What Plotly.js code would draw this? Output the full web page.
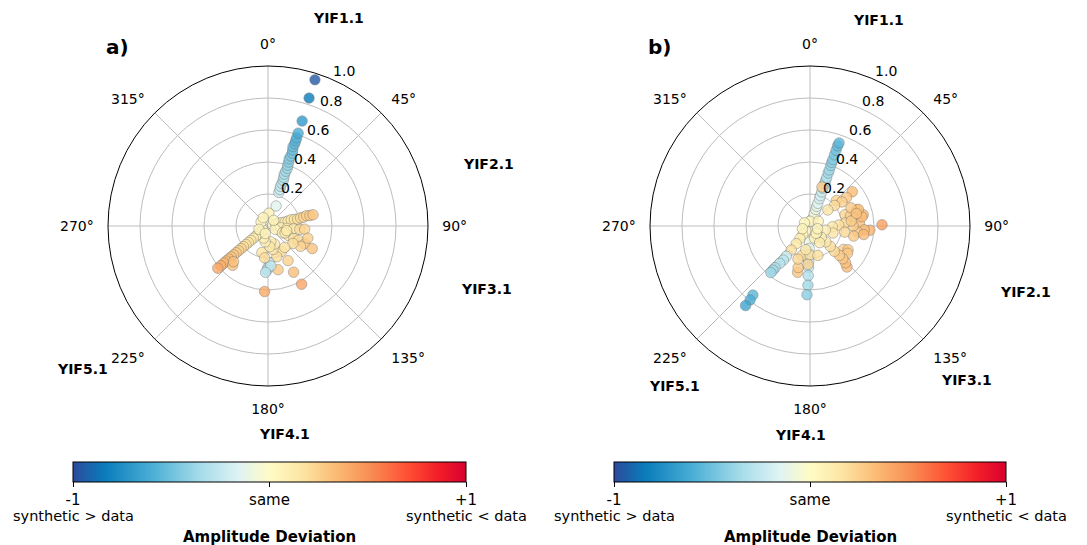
<!DOCTYPE html>
<html>
<head>
<meta charset="utf-8">
<script src="https://cdn.plot.ly/plotly-3.0.1.min.js"></script>
<style>
  html, body { margin: 0; padding: 0; background: #fff; }
  #chart { width: 1087px; height: 545px; }
</style>
</head>
<body>
<div id="chart"></div>
<script>
// Panel a): event azimuths (deg) and signed amplitude deviation
const azimA = [
  18, 18, 17.5, 18, 18.5, 18, 17.5, 18, 18.5, 18, 18, 17.5, 18, 18.5, 18, 17.5, 18, 18, 18, 18, 18, 17.8, 17.8,
  22, 4,
  76, 76, 75, 76, 77, 76, 75, 76, 77, 76, 76, 75, 76, 76,
  98, 97, 96, 96, 95,
  115, 115, 115, 116, 115, 116, 117, 107, 122, 125, 112, 104,
  152, 150, 151, 150, 142, 164, 168, 167, 193, 160, 170, 175,
  178, 180, 181, 176, 183, 183, 186, 190, 200,
  230, 230, 230, 230, 230, 230, 230, 230, 230, 230, 230, 230, 230, 230, 230, 230, 230, 230, 230, 222, 224,
  300, 330, 250, 45, 200
];
const devA = [
  -0.22, -0.24, -0.26, -0.28, -0.30, -0.32, -0.34, -0.36, -0.38, -0.40, -0.42, -0.44, -0.46, -0.48, -0.50, -0.52, -0.54, -0.56, -0.58, -0.61, -0.69, -0.84, -0.96,
  -0.135, 0.08,
  0.03, 0.05, 0.07, 0.09, 0.11, 0.13, 0.15, 0.17, 0.19, 0.21, 0.23, 0.25, 0.27, 0.29,
  0.08, 0.12, 0.16, 0.20, 0.23,
  0.05, 0.10, 0.14, 0.18, 0.21, 0.255, 0.31, 0.26, 0.24, 0.19, 0.115, 0.12,
  0.18, 0.25, 0.33, 0.42, 0.17, 0.20, 0.15, 0.28, 0.17, 0.12, 0.10, 0.13,
  -0.23, -0.26, -0.275, -0.25, -0.29, 0.41, 0.20, 0.10, 0.08,
  0.04, 0.06, 0.08, 0.10, 0.12, 0.14, 0.16, 0.18, 0.20, 0.22, 0.24, 0.26, 0.28, 0.30, 0.32, 0.34, 0.36, 0.385, 0.41, 0.33, 0.31,
  0.05, 0.06, 0.06, 0.05, 0.05
];

// Panel b): event azimuths (deg) and signed amplitude deviation
const azimB = [
  19, 19, 19, 19, 19, 19, 19, 19, 19, 19, 19, 19, 19, 19, 19, 19, 19, 19, 19, 19, 19.3, 17,
  51, 52, 46, 53, 50, 48,
  71, 78, 72, 76, 80, 87, 94, 89, 94, 97, 90, 85, 88, 92, 80, 71, 99, 103, 107, 105, 100, 83, 66, 75,
  125, 122, 126, 138, 136, 135, 135, 136, 135, 135, 135, 135,
  182, 182, 182, 182, 182, 182, 182, 182.5,
  195, 196, 195, 180, 183, 190, 200,
  220, 220, 219, 218, 218, 218, 218, 219, 220, 220, 220, 219.6, 219, 219,
  0, 300, 250, 160, 165, 150, 140, 60, 110
];
const devB = [
  -0.05, -0.08, -0.11, -0.13, -0.15, -0.18, -0.20, -0.225, -0.25, -0.28, -0.30, -0.32, -0.35, -0.37, -0.40, -0.42, -0.44, -0.47, -0.50, -0.53, -0.55, 0.255,
  0.34, 0.29, 0.23, 0.25, 0.20, 0.15,
  0.31, 0.34, 0.23, 0.26, 0.29, 0.31, 0.375, 0.45, 0.34, 0.30, 0.27, 0.22, 0.18, 0.14, 0.33, 0.32, 0.34, 0.28, 0.15, 0.10, 0.22, 0.26, 0.28, 0.30,
  0.255, 0.28, 0.29, 0.345, 0.32, 0.29, 0.26, 0.22, 0.18, 0.14, 0.10, 0.06,
  -0.10, -0.14, -0.18, -0.22, -0.26, -0.31, -0.37, -0.43,
  0.30, 0.27, 0.19, 0.18, 0.24, 0.15, 0.22,
  0.04, 0.07, 0.10, 0.14, 0.19, -0.24, -0.27, -0.30, -0.34, -0.36, -0.38, -0.56, -0.595, -0.64,
  0.03, 0.04, 0.05, 0.08, 0.19, 0.12, 0.06, 0.06, 0.05
];

// Station labels and their azimuth positions on each panel
const stations = ['YIF1.1', 'YIF2.1', 'YIF3.1', 'YIF4.1', 'YIF5.1'];
const stationPosA = [[338, 18], [488, 164], [486, 289], [284, 434], [82, 369]];
const stationPosB = [[878, 20], [1025, 292], [966, 380], [800, 435], [674, 386]];

const angleTicks = [0, 45, 90, 135, 180, 225, 270, 315];
const radialTicks = [0.2, 0.4, 0.6, 0.8, 1.0];
const radialLabelAzimuth = 24;
const cbarTicks = [-1, 0, 1];
const cbarLabels = ['-1', 'same', '+1'];
const cbarNotes = ['synthetic &gt; data', 'synthetic &lt; data'];
const cbarTitle = 'Amplitude Deviation';

const W = 1087, H = 545;
const FONT = 'DejaVu Sans, Liberation Sans, sans-serif';

const devScale = [
  [0.00, '#2b4a9c'], [0.08, '#0a7cba'], [0.20, '#4aaed6'], [0.32, '#a3dbe9'],
  [0.42, '#def3f4'], [0.50, '#fffbc6'], [0.58, '#fde6a4'], [0.67, '#fbbb74'],
  [0.76, '#f88c52'], [0.85, '#fe5034'], [0.93, '#f21d28'], [1.00, '#d8002f']
];

// Colour bars: [left, right] pixel extent of each bar
const cbarExtent = [[73, 466], [614, 1006]];

function makeTrace(az, dev, subplot, ext) {
  return {
    type: 'scatterpolar',
    mode: 'markers',
    subplot: subplot,
    theta: az,
    r: dev.map(v => Math.abs(v)),
    hoverinfo: 'skip',
    marker: {
      size: 10.5,
      color: dev,
      colorscale: devScale,
      cmin: -1, cmax: 1,
      opacity: 0.8,
      line: { color: 'rgba(105,105,105,0.85)', width: 0.6 },
      showscale: true,
      colorbar: {
        orientation: 'h',
        x: (ext[0] + ext[1]) / 2 / W, xanchor: 'center',
        y: 1 - 462 / H, yanchor: 'top',
        len: (ext[1] - ext[0]) / W, lenmode: 'fraction',
        thickness: 20, thicknessmode: 'pixels',
        xpad: 0, ypad: 0,
        outlinewidth: 1, outlinecolor: '#000',
        ticks: 'outside', ticklen: 5, tickwidth: 1, tickcolor: '#000',
        tickvals: cbarTicks, ticktext: cbarLabels,
        tickfont: { family: FONT, size: 15, color: '#000' }
      }
    }
  };
}

// Radial tick labels, set beside the spoke just past 22.5°
function radialLabels(subplot) {
  return {
    type: 'scatterpolar',
    mode: 'text',
    subplot: subplot,
    r: radialTicks,
    theta: radialTicks.map(() => radialLabelAzimuth),
    text: radialTicks.map(v => v.toFixed(1)),
    textposition: 'top right',
    textfont: { family: FONT, size: 14, color: '#000' },
    cliponaxis: false,
    hoverinfo: 'skip',
    showlegend: false
  };
}

function polarLayout(x0) {
  return {
    domain: { x: [x0 / W, (x0 + 320) / W], y: [1 - 386 / H, 1 - 66 / H] },
    bgcolor: '#fff',
    angularaxis: {
      rotation: 90, direction: 'clockwise',
      tickvals: angleTicks, ticktext: angleTicks.map(a => a + '°'),
      showline: true, linecolor: '#000', linewidth: 1,
      showgrid: true, gridcolor: '#bdbdbd', gridwidth: 1,
      ticks: 'outside', ticklen: 11, tickcolor: 'rgba(0,0,0,0)',
      tickfont: { family: FONT, size: 14, color: '#000' }
    },
    radialaxis: {
      range: [0, 1], angle: 67.5,
      tickvals: radialTicks, showticklabels: false,
      showline: false, ticks: '',
      showgrid: true, gridcolor: '#bdbdbd', gridwidth: 1
    }
  };
}

const annotations = [];
function addLabel(text, px, py, size) {
  annotations.push({
    text: text, xref: 'paper', yref: 'paper',
    x: px / W, y: 1 - py / H, xanchor: 'center', yanchor: 'middle',
    showarrow: false, font: { family: FONT, size: size, color: '#000' }
  });
}
stations.forEach((s, i) => {
  addLabel('<b>' + s + '</b>', stationPosA[i][0], stationPosA[i][1], 14);
  addLabel('<b>' + s + '</b>', stationPosB[i][0], stationPosB[i][1], 14);
});
addLabel('<b>a)</b>', 117, 47, 20);
addLabel('<b>b)</b>', 659, 47, 20);
cbarExtent.forEach(ext => {
  addLabel(cbarNotes[0], ext[0], 516, 14.5);
  addLabel(cbarNotes[1], ext[1], 516, 14.5);
  addLabel('<b>' + cbarTitle + '</b>', (ext[0] + ext[1]) / 2, 537, 15);
});

const layout = {
  width: W, height: H,
  margin: { l: 0, r: 0, t: 0, b: 0 },
  paper_bgcolor: '#fff',
  showlegend: false,
  font: { family: FONT, size: 14, color: '#000' },
  polar: polarLayout(108),
  polar2: polarLayout(650),
  annotations: annotations
};

Plotly.newPlot('chart', [
  makeTrace(azimA, devA, 'polar', cbarExtent[0]),
  makeTrace(azimB, devB, 'polar2', cbarExtent[1]),
  radialLabels('polar'),
  radialLabels('polar2')
], layout, { staticPlot: true, displayModeBar: false });
</script>
</body>
</html>
